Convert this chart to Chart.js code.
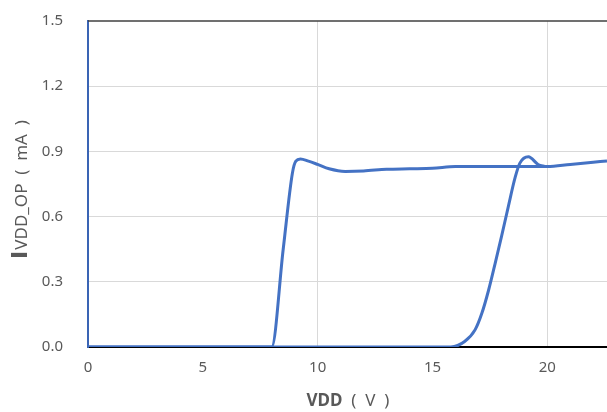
<!DOCTYPE html>
<html>
<head>
<meta charset="utf-8">
<script src="https://cdn.jsdelivr.net/npm/chart.js@4"></script>
<style>
  html, body { margin: 0; padding: 0; background: #fff; }
  #wrap { width: 607px; height: 412px; }
</style>
</head>
<body>
<div id="wrap"><canvas id="myChart" width="607" height="412"></canvas></div>
<script>
// turn-off sweep (falls at ~8 V)
const vddDown = [0, 8.0, 8.5, 8.9, 9.05, 9.25, 9.6, 10, 10.5, 11.2, 12, 13, 14, 15, 16, 17, 18, 19, 20, 21, 22, 22.6];
const iddDown = [0, 0, 0.45, 0.80, 0.855, 0.865, 0.855, 0.84, 0.82, 0.808, 0.81, 0.818, 0.82, 0.822, 0.83, 0.83, 0.83, 0.83, 0.83, 0.84, 0.85, 0.856];

// turn-on sweep (rises at ~16 V)
const vddUp = [0, 15.8, 16.4, 16.86, 17.15, 17.44, 17.73, 18.01, 18.3, 18.6, 18.8, 19.18, 19.6, 19.9];
const iddUp = [0, 0, 0.025, 0.08, 0.155, 0.26, 0.385, 0.51, 0.645, 0.78, 0.845, 0.875, 0.84, 0.83];

const xTicks = [0, 5, 10, 15, 20];
const yTicks = [0, 0.3, 0.6, 0.9, 1.2, 1.5];

const blu = '#4472c4';
const txt = '#595959';
const fontName = "'Noto Sans', 'Noto Sans CJK KR', sans-serif";

function punti(xs, ys) {
    return xs.map(function(x, i) {
        return { x: x, y: ys[i] };
    });
}

// axis titles with mixed bold / regular text
const titoli = {
    id: 'titoli',
    afterDraw(chart) {
        const c = chart.ctx;
        const area = chart.chartArea;
        c.save();
        c.fillStyle = txt;
        c.textBaseline = 'middle';

        // x title
        c.font = 'bold 17px ' + fontName;
        const a = 'VDD';
        const wa = c.measureText(a).width;
        c.font = '17px ' + fontName;
        const b = '  (  V  )';
        const wb = c.measureText(b).width;
        let x0 = 348 - (wa + wb) / 2;
        c.font = 'bold 17px ' + fontName;
        c.textAlign = 'left';
        c.fillText(a, x0, 401);
        c.font = '17px ' + fontName;
        c.fillText(b, x0 + wa, 401);

        // y title
        c.translate(21, 190);
        c.rotate(-Math.PI / 2);
        c.font = "bold 22px 'DejaVu Sans', sans-serif";
        const p = 'I';
        const wp = c.measureText(p).width;
        c.font = '17px ' + fontName;
        const q = 'VDD_OP  (  mA  )';
        const wq = c.measureText(q).width;
        let s = -(wp + wq) / 2;
        c.font = "bold 22px 'DejaVu Sans', sans-serif";
        c.fillText(p, s, 0);
        c.font = '17px ' + fontName;
        c.fillText(q, s + wp + 1, 1);
        c.restore();

        // top border
        c.save();
        c.strokeStyle = '#404040';
        c.lineWidth = 1.5;
        c.beginPath();
        c.moveTo(area.left, area.top);
        c.lineTo(area.right, area.top);
        c.stroke();
        c.restore();
    }
};

new Chart(document.getElementById('myChart'), {
    type: 'scatter',
    data: {
        datasets: [{
            data: punti(vddDown, iddDown),
            showLine: true,
            borderColor: blu,
            borderWidth: 3,
            pointRadius: 0,
            cubicInterpolationMode: 'monotone'
        }, {
            data: punti(vddUp, iddUp),
            showLine: true,
            borderColor: blu,
            borderWidth: 3,
            pointRadius: 0,
            cubicInterpolationMode: 'monotone'
        }]
    },
    options: {
        responsive: false,
        animation: false,
        layout: { padding: { top: 21, right: 0, left: 0, bottom: 0 } },
        plugins: {
            legend: { display: false },
            tooltip: { enabled: false }
        },
        scales: {
            x: {
                type: 'linear',
                min: 0,
                max: 22.6,
                afterBuildTicks: function(scale) {
                    scale.ticks = xTicks.map(v => ({ value: v }));
                },
                afterFit: function(scale) {
                    scale.height = 65;
                    scale.paddingLeft = 0;
                    scale.paddingRight = 0;
                },
                ticks: {
                    color: txt,
                    font: { family: fontName, size: 15 },
                    padding: 12,
                    maxRotation: 0
                },
                grid: {
                    drawTicks: false,
                    color: function(ctx) {
                        const v = ctx.tick ? ctx.tick.value : 0;
                        return (v > 0 && v % 10 === 0) ? '#d9d9d9' : 'rgba(0,0,0,0)';
                    }
                },
                border: { color: '#000', width: 2 }
            },
            y: {
                min: 0,
                max: 1.5,
                afterBuildTicks: function(scale) {
                    scale.ticks = yTicks.map(v => ({ value: v }));
                },
                afterFit: function(scale) {
                    scale.width = 88;
                    scale.paddingTop = 0;
                    scale.paddingBottom = 0;
                },
                ticks: {
                    color: txt,
                    font: { family: fontName, size: 15 },
                    padding: 25,
                    callback: function(v) { return v.toFixed(1); }
                },
                grid: {
                    drawTicks: false,
                    color: function(ctx) {
                        const v = ctx.tick ? ctx.tick.value : 0;
                        return (v > 0 && v < 1.5) ? '#d9d9d9' : 'rgba(0,0,0,0)';
                    }
                },
                border: { color: '#3a64b4', width: 2 }
            }
        }
    },
    plugins: [titoli]
});
</script>
</body>
</html>
